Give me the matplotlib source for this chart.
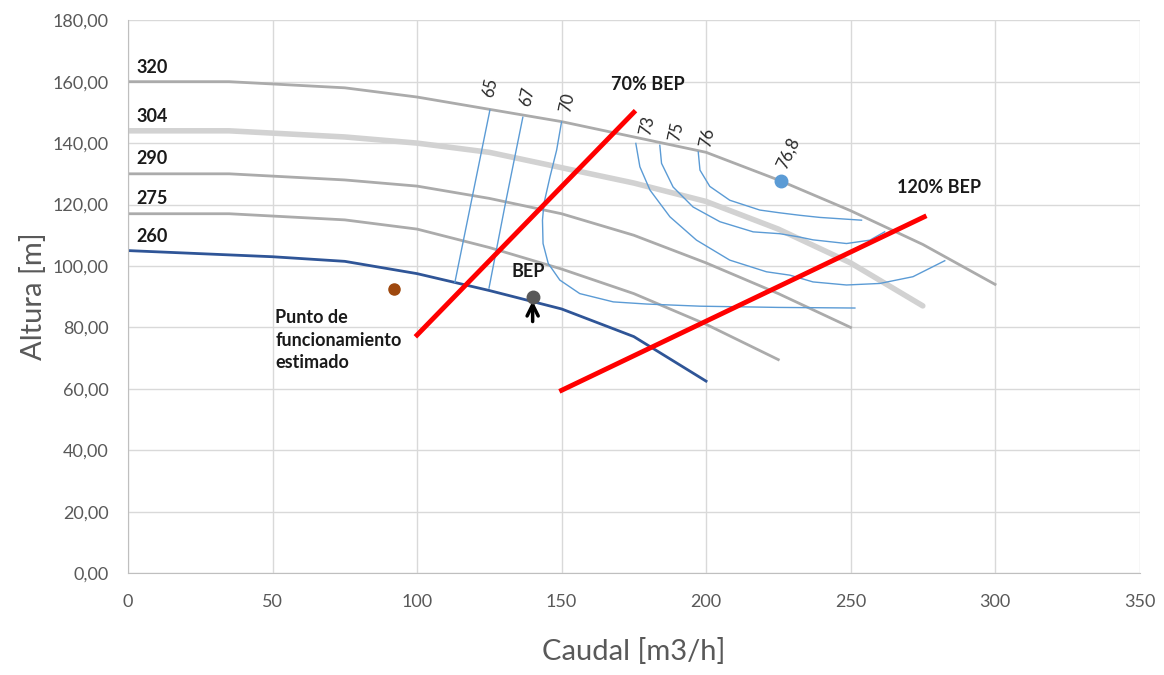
import matplotlib.pyplot as plt
from matplotlib.ticker import FuncFormatter

plt.rcParams['font.family'] = ['Lato', 'DejaVu Sans']

# curvas H-Q por diametro de rodete
q_320 = [0, 35, 75, 100, 125, 150, 175, 200, 225, 250, 275, 300]
h_320 = [160, 160, 158, 155, 151, 147, 142, 137, 128, 118, 107, 94]
q_304 = [0, 35, 75, 100, 125, 150, 175, 200, 225, 250, 275]
h_304 = [144, 144, 142, 140, 137, 132, 127, 121, 112, 101, 87]
q_290 = [0, 35, 75, 100, 125, 150, 175, 200, 225, 250]
h_290 = [130, 130, 128, 126, 122, 117, 110, 101, 91, 80]
q_275 = [0, 35, 75, 100, 125, 150, 175, 200, 225]
h_275 = [117, 117, 115, 112, 106, 99, 91, 81, 69.5]
q_260 = [0, 50, 75, 100, 125, 150, 175, 200]
h_260 = [105, 103, 101.5, 97.5, 92, 86, 77, 62.5]
curve_labels = ['320', '304', '290', '275', '260']
label_h = [164.5, 148.5, 135, 122, 109.5]

# isorendimiento
q_e65 = [125.2, 119, 113.1]
h_e65 = [150.7, 122, 94.7]
q_e67 = [136.6, 130.5, 124.9]
h_e67 = [148.4, 120, 92.8]
q_e70 = [150.0, 148.3, 146.0, 143.9, 143.4, 143.6, 145.4, 149.4, 156.3, 167.9, 179.4, 197.9, 225, 251.5]
h_e70 = [146.9, 137.7, 129.0, 120.3, 114.9, 107.3, 100.8, 95.4, 91.0, 88.3, 87.6, 86.9, 86.5, 86.3]
q_e73 = [175.7, 177.1, 180.6, 187.5, 196.7, 208.2, 220.9, 229.0, 237.0, 248.6, 260.1, 271.6, 282.6]
h_e73 = [139.9, 132.3, 124.7, 116.0, 108.4, 101.9, 98.1, 97.0, 94.8, 93.8, 94.3, 96.5, 101.7]
q_e75 = [184.0, 184.6, 188.6, 195.5, 204.8, 216.3, 225.5, 232.4, 237.0, 248.6, 256.7, 261.8]
h_e75 = [139.3, 133.4, 125.7, 119.2, 114.4, 111.1, 110.5, 109.4, 108.5, 107.3, 108.4, 111.1]
q_e76 = [197.3, 197.9, 201.3, 208.2, 218.6, 225.5, 232.4, 239.4, 253.8]
h_e76 = [137.1, 131.2, 125.9, 121.4, 118.2, 117.3, 116.5, 115.8, 114.9]
eff_labels = ['65', '67', '70', '73', '75', '76']
eff_lab_q = [125.2, 138, 151.9, 179.5, 189.6, 200.3]
eff_lab_h = [158, 155.3, 153.3, 145.8, 143.9, 141.9]

# limites 70% y 120% BEP
q_70 = [100, 175]
h_70 = [77.5, 150]
q_120 = [150, 275.5]
h_120 = [59.5, 116]

bep_q, bep_h = 140, 90
op_q, op_h = 92, 92.5
max_q, max_h = 226, 127.5

fig = plt.figure(figsize=(11.64, 6.75), dpi=100)
ax = fig.add_axes([0.110, 0.151, 0.869, 0.819])

gray = '#ABABAB'
ax.plot(q_320, h_320, color=gray, lw=2)
ax.plot(q_304, h_304, color='#D2D2D2', lw=4, solid_capstyle='round')
ax.plot(q_290, h_290, color=gray, lw=2)
ax.plot(q_275, h_275, color=gray, lw=2)
ax.plot(q_260, h_260, color='#2F5597', lw=2)

bold_kw = dict(fontsize=13, fontweight='bold', color='#1a1a1a')
for lab, hh in zip(curve_labels, label_h):
    ax.text(3, hh, lab, va='center', ha='left', **bold_kw)

blue = '#5B9BD5'
for qq, hh in [(q_e65, h_e65), (q_e67, h_e67), (q_e70, h_e70), (q_e73, h_e73), (q_e75, h_e75), (q_e76, h_e76)]:
    ax.plot(qq, hh, color=blue, lw=1)
for lab, qq, hh in zip(eff_labels, eff_lab_q, eff_lab_h):
    ax.text(qq, hh, lab, fontsize=12, rotation=78, ha='center', va='center', color='#262626')

ax.plot(q_70, h_70, color='#FF0000', lw=3.5)
ax.plot(q_120, h_120, color='#FF0000', lw=3.5)
ax.text(167, 159, '70% BEP', ha='left', va='center', **bold_kw)
ax.text(266, 125.5, '120% BEP', ha='left', va='center', **bold_kw)

ax.plot([bep_q], [bep_h], 'o', color='#595959', ms=9, zorder=5)
ax.annotate('', xy=(bep_q, bep_h - 0.5), xytext=(bep_q, bep_h - 9),
            arrowprops=dict(arrowstyle='->', color='black', lw=2.5, mutation_scale=20))
ax.text(bep_q - 1.5, 98.3, 'BEP', ha='center', va='center', **bold_kw)

ax.plot([op_q], [op_h], 'o', color='#9E480E', ms=8, zorder=5)
ax.text(51, 75.8, 'Punto de\nfuncionamiento\nestimado', ha='left', va='center',
        linespacing=1.4, **bold_kw)

ax.plot([max_q], [max_h], 'o', color=blue, ms=9, zorder=5)
ax.text(228.6, 136.7, '76,8', fontsize=12, rotation=65, ha='center', va='center', color='#262626')

ax.set_xlim(0, 350)
ax.set_ylim(0, 180)
ax.set_xticks(range(0, 351, 50))
ax.set_yticks(range(0, 181, 20))
ax.yaxis.set_major_formatter(FuncFormatter(lambda v, p: f'{v:.2f}'.replace('.', ',')))
ax.grid(True, color='#D9D9D9', lw=1)
ax.set_axisbelow(True)
for s in ['top', 'right']:
    ax.spines[s].set_visible(False)
for s in ['left', 'bottom']:
    ax.spines[s].set_color('#BFBFBF')
ax.tick_params(length=0, labelsize=13, colors='#595959')
ax.tick_params(axis='x', pad=15)
ax.tick_params(axis='y', pad=14)
ax.set_xlabel('Caudal [m3/h]', fontsize=21, color='#595959', labelpad=20)
ax.set_ylabel('Altura [m]', fontsize=21, color='#595959', labelpad=4)

fig.savefig('out.png', dpi=100)
